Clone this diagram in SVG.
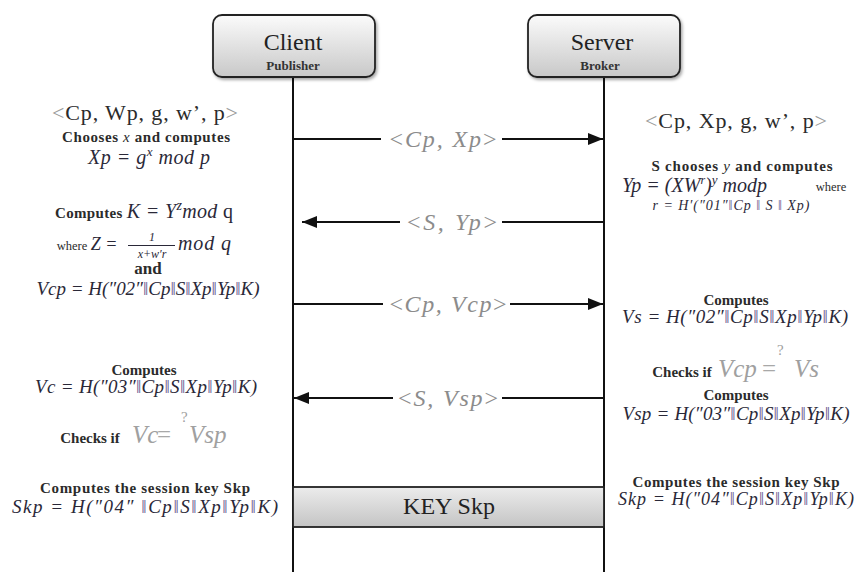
<svg xmlns="http://www.w3.org/2000/svg" width="855" height="572" viewBox="0 0 855 572">
<defs>
  <linearGradient id="hdr" x1="0" y1="0" x2="0" y2="1">
    <stop offset="0" stop-color="#fbfbfb"/>
    <stop offset="1" stop-color="#c8c8c8"/>
  </linearGradient>
  <linearGradient id="keyg" x1="0" y1="0" x2="0" y2="1">
    <stop offset="0" stop-color="#ececec"/>
    <stop offset="1" stop-color="#c4c4c4"/>
  </linearGradient>
  <filter id="sh" x="-10%" y="-10%" width="130%" height="140%">
    <feDropShadow dx="1.5" dy="2" stdDeviation="1.5" flood-color="#000" flood-opacity="0.35"/>
  </filter>
  <marker id="ah" markerUnits="userSpaceOnUse" markerWidth="16" markerHeight="14" refX="15" refY="7" orient="auto">
    <path d="M0,1 L15,7 L0,13 Z" fill="#111"/>
  </marker>
  <style>
    .box{fill:url(#hdr);stroke:#222;stroke-width:1.8}
    .life{stroke:#111;stroke-width:2;fill:none}
    .arr{stroke:#111;stroke-width:2;fill:none}
    .ttl{font-family:"Liberation Serif",serif;font-size:24px;fill:#222;text-anchor:middle}
    .sub{font-family:"Liberation Serif",serif;font-size:13px;font-weight:bold;fill:#333;text-anchor:middle}
    .lbl{font-family:"Liberation Serif",serif;font-size:24px;font-style:italic;fill:#8c8c8c;text-anchor:middle}
    .up{font-style:normal}
    .t{font-family:"Liberation Serif",serif;font-size:15px;font-weight:bold;fill:#2b2b2b;text-anchor:middle}
    .m{font-family:"Liberation Serif",serif;font-size:19px;font-style:italic;fill:#2a2838;text-anchor:middle}
    .bar{fill:#6b5b90;font-style:normal}
    .big{font-family:"Liberation Serif",serif;font-size:22px;fill:#2b2b2b;text-anchor:middle}
    .g{fill:#9a9a9a}
    .gm{font-family:"Liberation Serif",serif;font-size:25px;font-style:italic;fill:#a0a0a0}
    .eq{font-family:"Liberation Serif",serif;font-size:25px;fill:#a8a8a8}
    .q{font-family:"Liberation Serif",serif;font-size:15px;fill:#a0a0a0}
  </style>
</defs>
<rect width="855" height="572" fill="#fff"/>

<g id="connectors">
  <line class="life" x1="293" y1="77" x2="293" y2="572"/>
  <line class="life" x1="604" y1="77" x2="604" y2="572"/>
  <line class="arr" x1="293" y1="139" x2="381" y2="139"/>
  <line class="arr" x1="502" y1="139" x2="603" y2="139" marker-end="url(#ah)"/>
  <text class="lbl" x="443" y="147" textLength="107"><tspan class="up">&lt;</tspan>Cp, Xp<tspan class="up">&gt;</tspan></text>
  <line class="arr" x1="604" y1="222" x2="502" y2="222"/>
  <line class="arr" x1="400" y1="222" x2="302" y2="222" marker-end="url(#ah)"/>
  <text class="lbl" x="452" y="230" textLength="90"><tspan class="up">&lt;</tspan>S, Yp<tspan class="up">&gt;</tspan></text>
  <line class="arr" x1="293" y1="304" x2="383" y2="304"/>
  <line class="arr" x1="510" y1="304" x2="603" y2="304" marker-end="url(#ah)"/>
  <text class="lbl" x="448" y="312" textLength="117"><tspan class="up">&lt;</tspan>Cp, Vcp<tspan class="up">&gt;</tspan></text>
  <line class="arr" x1="604" y1="398" x2="502" y2="398"/>
  <line class="arr" x1="393" y1="398" x2="294" y2="398" marker-end="url(#ah)"/>
  <text class="lbl" x="448" y="406" textLength="100"><tspan class="up">&lt;</tspan>S, Vsp<tspan class="up">&gt;</tspan></text>
</g>

<g id="client">
  <rect class="box" x="213" y="15" width="162" height="62" rx="9" filter="url(#sh)"/>
  <text class="ttl" x="293" y="50">Client</text>
  <text class="sub" x="293" y="70">Publisher</text>
</g>

<g id="server">
  <rect class="box" x="528" y="15" width="152" height="62" rx="9" filter="url(#sh)"/>
  <text class="ttl" x="602" y="50">Server</text>
  <text class="sub" x="600" y="70">Broker</text>
</g>

<g id="key">
  <rect x="293" y="487" width="311" height="40" fill="url(#keyg)" stroke="#222" stroke-width="1.8"/>
  <text class="ttl" x="449" y="514">KEY Skp</text>
</g>

<g id="client-notes">
  <text class="big" x="145" y="120" textLength="186"><tspan class="g">&lt;</tspan>Cp, Wp, g, w’, p<tspan class="g">&gt;</tspan></text>
  <text class="t" x="146" y="142" textLength="168">Chooses <tspan style="font-style:italic;font-weight:normal">x</tspan>  and computes</text>
  <text class="m" x="149" y="164" style="font-size:20px" textLength="122">Xp = g<tspan dy="-8" style="font-size:13px">x</tspan><tspan dy="8"> mod p</tspan></text>

  <text class="t" x="144" y="218" textLength="178">Computes <tspan style="font-size:20px;font-style:italic;font-weight:normal;fill:#2a2838">K = Y<tspan dy="-8" style="font-size:14px">z</tspan><tspan dy="8">mod </tspan><tspan style="font-style:normal">q</tspan></tspan></text>
  <text class="t" x="72" y="250" style="font-size:12.5px;font-weight:normal">where</text>
  <text class="m" x="104" y="250" style="font-size:18px">Z =</text>
  <text class="m" x="152" y="241" style="font-size:12px">1</text>
  <line x1="128" y1="245.5" x2="175" y2="245.5" stroke="#2a2838" stroke-width="1"/>
  <text class="m" x="152" y="258" style="font-size:12px">x+w′r</text>
  <text class="m" x="178" y="250" style="text-anchor:start;font-size:20px" textLength="53">mod q</text>
  <text class="t" x="148" y="274" style="font-size:17px">and</text>
  <text class="m" x="148" y="295" textLength="223">Vcp = H(″02″<tspan class="bar">‖</tspan>Cp<tspan class="bar">‖</tspan>S<tspan class="bar">‖</tspan>Xp<tspan class="bar">‖</tspan>Yp<tspan class="bar">‖</tspan>K)</text>

  <text class="t" x="144" y="375">Computes</text>
  <text class="m" x="146" y="393" textLength="222">Vc = H(″03″<tspan class="bar">‖</tspan>Cp<tspan class="bar">‖</tspan>S<tspan class="bar">‖</tspan>Xp<tspan class="bar">‖</tspan>Yp<tspan class="bar">‖</tspan>K)</text>
  <text class="t" x="90" y="443">Checks if</text>
  <text class="gm" x="132" y="443">Vc</text>
  <text class="eq" x="157" y="443">=</text>
  <text class="q" x="181" y="422">?</text>
  <text class="gm" x="189" y="443">Vsp</text>

  <text class="t" x="145" y="493" textLength="210">Computes the session key Skp</text>
  <text class="m" x="145" y="513" textLength="266">Skp = H(″04″ <tspan class="bar">‖</tspan>Cp<tspan class="bar">‖</tspan>S<tspan class="bar">‖</tspan>Xp<tspan class="bar">‖</tspan>Yp<tspan class="bar">‖</tspan>K)</text>
</g>

<g id="server-notes">
  <text class="big" x="736" y="128" textLength="182"><tspan class="g">&lt;</tspan>Cp, Xp, g, w’, p<tspan class="g">&gt;</tspan></text>
  <text class="t" x="742" y="171" textLength="181">S chooses <tspan style="font-style:italic;font-weight:normal">y</tspan> and computes</text>
  <text class="m" x="622" y="192" style="text-anchor:start;font-size:20px" textLength="145">Yp = (XW<tspan dy="-8" style="font-size:12px">r</tspan><tspan dy="8">)</tspan><tspan dy="-8" style="font-size:13px">y</tspan><tspan dy="8"> modp</tspan></text>
  <text class="t" x="831" y="191" style="font-size:12.5px;font-weight:normal">where</text>
  <text class="m" x="731" y="210" style="font-size:14px" textLength="157">r = H′(″01″<tspan class="bar">‖</tspan>Cp <tspan class="bar">‖</tspan> S <tspan class="bar">‖</tspan> Xp)</text>

  <text class="t" x="736" y="305">Computes</text>
  <text class="m" x="735" y="323" textLength="226">Vs = H(″02″<tspan class="bar">‖</tspan>Cp<tspan class="bar">‖</tspan>S<tspan class="bar">‖</tspan>Xp<tspan class="bar">‖</tspan>Yp<tspan class="bar">‖</tspan>K)</text>
  <text class="t" x="682" y="377">Checks if</text>
  <text class="gm" x="718" y="377">Vcp</text>
  <text class="eq" x="762" y="377">=</text>
  <text class="q" x="777" y="355">?</text>
  <text class="gm" x="794" y="377">Vs</text>
  <text class="t" x="736" y="400">Computes</text>
  <text class="m" x="736" y="420" textLength="227">Vsp = H(″03″<tspan class="bar">‖</tspan>Cp<tspan class="bar">‖</tspan>S<tspan class="bar">‖</tspan>Xp<tspan class="bar">‖</tspan>Yp<tspan class="bar">‖</tspan>K)</text>

  <text class="t" x="736" y="487" textLength="207">Computes the session key Skp</text>
  <text class="m" x="736" y="505" style="font-size:18px" textLength="236">Skp = H(″04″<tspan class="bar">‖</tspan>Cp<tspan class="bar">‖</tspan>S<tspan class="bar">‖</tspan>Xp<tspan class="bar">‖</tspan>Yp<tspan class="bar">‖</tspan>K)</text>
</g>
</svg>
